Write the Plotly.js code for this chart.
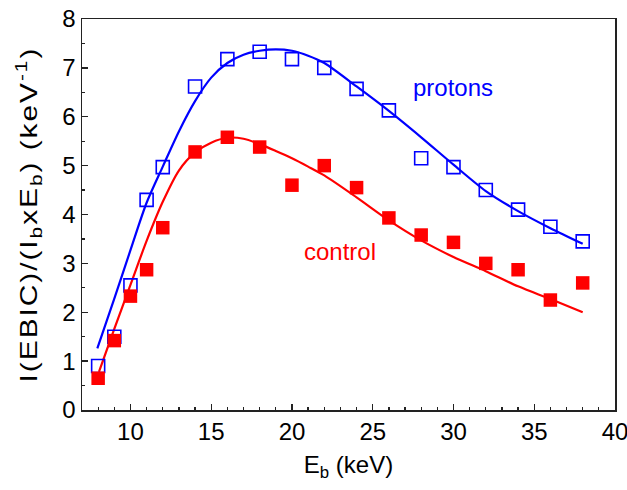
<!DOCTYPE html>
<html>
<head>
<meta charset="utf-8">
<script src="https://cdn.plot.ly/plotly-3.0.1.min.js"></script>
<style>
html,body{margin:0;padding:0;background:#fff;}
#chart{width:627px;height:490px;}
#chart .ytitle{letter-spacing:1.5px;}
</style>
</head>
<body>
<div id="chart"></div>
<script>
// Measured points
const energy = [8, 9, 10, 11, 12, 14, 16, 18, 20, 22, 24, 26, 28, 30, 32, 34, 36, 38];
const protons = [0.9, 1.5, 2.55, 4.3, 4.97, 6.62, 7.18, 7.33, 7.18, 7.0, 6.57, 6.13, 5.15, 4.97, 4.5, 4.1, 3.75, 3.45];
const control = [0.65, 1.42, 2.33, 2.87, 3.73, 5.28, 5.58, 5.38, 4.6, 5.0, 4.55, 3.93, 3.58, 3.43, 3.0, 2.87, 2.25, 2.6];

// Fit curves
const fitProtonsX = [7.95, 9, 10, 11, 12, 13, 14, 15, 16, 17, 18, 19, 20, 21, 22, 24, 26, 28, 30, 32, 34, 36, 38];
const fitProtonsY = [1.26, 2.28, 3.27, 4.24, 4.98, 5.7, 6.32, 6.8, 7.1, 7.27, 7.35, 7.38, 7.35, 7.25, 7.1, 6.62, 6.12, 5.58, 5.02, 4.48, 4.07, 3.72, 3.4];
const fitControlX = [8.05, 9, 10, 11, 12, 13, 14, 15, 16, 17, 18, 19, 20, 21, 22, 24, 26, 28, 30, 32, 34, 36, 38];
const fitControlY = [0.78, 1.66, 2.56, 3.46, 4.26, 4.9, 5.27, 5.47, 5.57, 5.55, 5.44, 5.3, 5.15, 4.98, 4.8, 4.35, 3.88, 3.47, 3.13, 2.84, 2.53, 2.27, 2.0];

const BLUE = '#0000ff';
const RED = '#ff0000';
const FONT = 'Liberation Sans, Arial, sans-serif';

const traces = [
  {x: fitProtonsX, y: fitProtonsY, mode: 'lines', line: {color: BLUE, width: 2.2, shape: 'spline', smoothing: 0.8}, hoverinfo: 'skip'},
  {x: fitControlX, y: fitControlY, mode: 'lines', line: {color: RED, width: 2.2, shape: 'spline', smoothing: 0.8}, hoverinfo: 'skip'},
  {x: energy, y: protons, mode: 'markers', marker: {symbol: 'square-open', size: 13, color: BLUE, line: {color: BLUE, width: 1.6}}},
  {x: energy, y: control, mode: 'markers', marker: {symbol: 'square', size: 13.5, color: RED, line: {width: 0}}}
];

const axisCommon = {
  showgrid: false, zeroline: false, showline: true, linecolor: '#222', linewidth: 1.5,
  mirror: true, ticks: 'inside', ticklen: 6, tickwidth: 1.3, tickcolor: '#222',
  ticklabeloverflow: 'allow',
  tickfont: {family: FONT, size: 24, color: '#000'}
};

const layout = {
  width: 627, height: 490,
  margin: {l: 82, r: 12, t: 19, b: 80},
  paper_bgcolor: '#fff', plot_bgcolor: '#fff',
  showlegend: false,
  xaxis: Object.assign({}, axisCommon, {
    range: [7, 40], dtick: 5, tick0: 0,
    minor: {dtick: 1, ticklen: 3, tickcolor: '#222', ticks: 'inside'},
    title: {text: 'E<sub>b</sub> (keV)', font: {family: FONT, size: 24, color: '#000'}, standoff: 12}
  }),
  yaxis: Object.assign({}, axisCommon, {
    range: [0, 8], dtick: 1, tick0: 0,
    minor: {dtick: 0.5, ticklen: 3, tickcolor: '#222', ticks: 'inside'},
    title: {text: 'I(EBIC)/(I<sub>b</sub>xE<sub>b</sub>) (keV<sup>-1</sup>)', font: {family: FONT, size: 23, color: '#000'}, standoff: 18}
  }),
  annotations: [
    {x: 30.0, y: 6.6, xref: 'x', yref: 'y', text: 'protons', showarrow: false, font: {family: FONT, size: 24, color: BLUE}},
    {x: 23.0, y: 3.25, xref: 'x', yref: 'y', text: 'control', showarrow: false, font: {family: FONT, size: 24, color: RED}}
  ]
};

Plotly.newPlot('chart', traces, layout, {displayModeBar: false, staticPlot: true}).then(function (gd) {
  // stretch the y-axis title along its direction, as in the reference
  const t = gd.querySelector('.ytitle');
  if (t) {
    const x = parseFloat(t.getAttribute('x')), y = parseFloat(t.getAttribute('y'));
    const tr = t.getAttribute('transform') || '';
    t.setAttribute('transform', tr + ' translate(' + x + ',' + y + ') scale(1.3,1) translate(' + (-x) + ',' + (-y) + ')');
  }
});
</script>
</body>
</html>
